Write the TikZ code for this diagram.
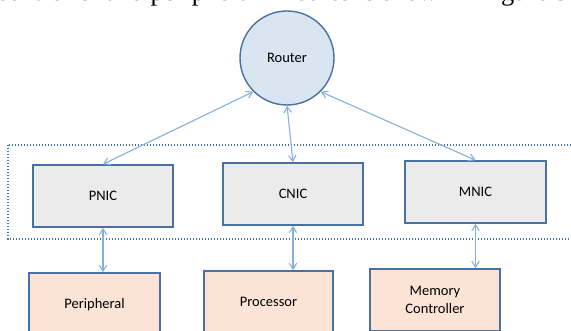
\documentclass[tikz,border=0pt]{standalone}
\usepackage{fontspec}
\setmainfont{Carlito}
\newfontfamily\bodyserif{Liberation Serif}
\usetikzlibrary{arrows.meta}

\definecolor{routerfill}{HTML}{DAE5F2}
\definecolor{edgeblue}{HTML}{4A72A0}
\definecolor{nicfill}{HTML}{EBEBEB}
\definecolor{corefill}{HTML}{FBE4D5}
\definecolor{linkblue}{HTML}{86B0E0}
\definecolor{groupblue}{HTML}{4472B0}

\tikzset{
  router/.style={circle, draw=edgeblue, line width=1.4pt, fill=routerfill,
    minimum size=94pt, inner sep=0pt, font=\fontsize{14.5}{17}\selectfont},
  nicbox/.style={draw=edgeblue, line width=1.6pt, fill=nicfill,
    minimum width=140pt, minimum height=62pt, inner sep=0pt,
    font=\fontsize{14.5}{17}\selectfont},
  corebox/.style={draw=edgeblue, line width=1.6pt, fill=corefill,
    minimum width=130pt, minimum height=62pt, inner sep=0pt, align=center,
    font=\fontsize{14.5}{18}\selectfont},
  link/.style={draw=linkblue, line width=1.1pt,
    {Straight Barb[angle=64:7pt]}-{Straight Barb[angle=64:7pt]}},
  group/.style={draw=groupblue, line width=1.5pt, dash pattern=on 1.4pt off 1.6pt}
}

\begin{document}
\begin{tikzpicture}[x=1pt, y=-1pt]
  \useasboundingbox (0,0) rectangle (571,331);
  \clip (0,0) rectangle (571,331);

  % line of running text above the figure
  \node[anchor=base west, inner sep=0pt, font=\bodyserif\fontsize{26.5}{30}\selectfont]
    (caption) at (-4,1) {controller and peripheral IP cores is shown in figure 3};

  % network interfaces grouped together
  \draw[group] (8,145) rectangle (620,239);

  \node[router] (router) at (287,58) {Router};

  \node[nicbox] (pnic) at (103,196) {PNIC};
  \node[nicbox] (cnic) at (293,194) {CNIC};
  \node[nicbox, minimum width=141pt] (mnic) at (475.5,192) {MNIC};

  \node[corebox, minimum width=131pt, minimum height=64pt] (periph) at (94.5,305) {Peripheral};
  \node[corebox, minimum width=129pt] (proc) at (268.5,302) {Processor};
  \node[corebox] (memctl) at (435,300) {Memory\\Controller};

  % router links
  \draw[link] (router.225) -- (pnic.north);
  \draw[link] (router.south) -- (cnic.north);
  \draw[link] (router.-45) -- (mnic.north);

  % interface to core links
  \draw[link] (pnic.south) -- (pnic.south |- periph.north);
  \draw[link] (cnic.south) -- (cnic.south |- proc.north);
  \draw[link] (mnic.south) -- (mnic.south |- memctl.north);
\end{tikzpicture}
\end{document}
